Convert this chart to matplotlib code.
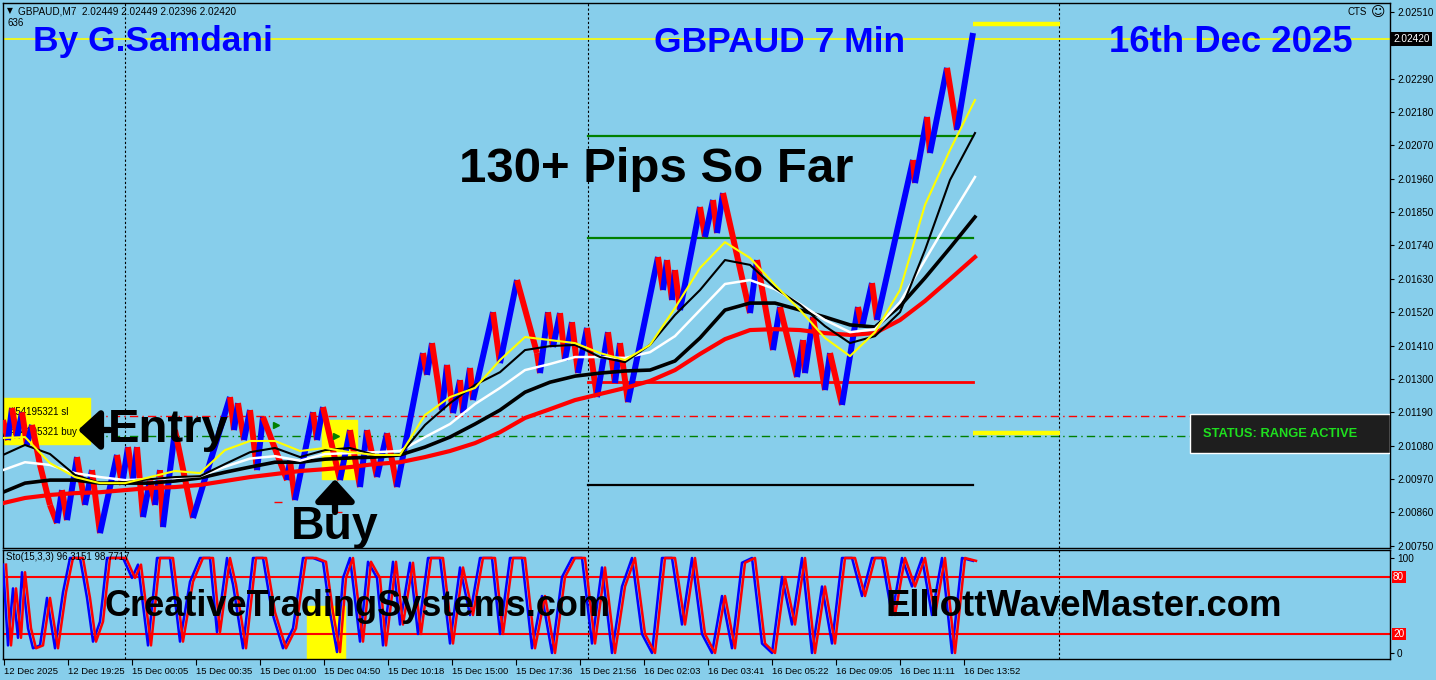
import numpy as np
import matplotlib.pyplot as plt
from matplotlib.collections import LineCollection
from matplotlib.patches import Rectangle

W, H = 1436, 680
SKY = '#87ceeb'

# --------------------------
# price swings (x = chart column, price)
# --------------------------
swing_x = [3, 8, 12, 17, 22, 27, 32, 40, 50, 57,
           62, 67, 77, 85, 92, 100, 117, 122, 128, 133,
           137, 143, 150, 155, 160, 163, 175, 193, 230, 234,
           238, 244, 250, 257, 263, 287, 290, 295, 313, 317,
           323, 340, 350, 360, 367, 377, 387, 397, 423, 427,
           432, 442, 447, 453, 460, 463, 470, 473, 493, 500,
           517, 537, 540, 548, 553, 560, 565, 572, 578, 587,
           597, 608, 615, 620, 628, 658, 663, 667, 672, 675,
           680, 700, 705, 713, 717, 723, 750, 757, 773, 780,
           797, 803, 805, 813, 825, 830, 842, 858, 862, 872,
           877, 913, 915, 927, 930, 947, 957, 973]
swing_p = [2.01164, 2.01098, 2.01204, 2.01105, 2.01190, 2.01082, 2.01148, 2.01016, 2.00884, 2.00824,
           2.00933, 2.00834, 2.01042, 2.00884, 2.00999, 2.00791, 2.01049, 2.00950, 2.01075, 2.00966,
           2.01075, 2.00844, 2.00966, 2.00884, 2.00999, 2.00811, 2.01131, 2.00841, 2.01240, 2.01131,
           2.01220, 2.01098, 2.01197, 2.00999, 2.01174, 2.00966, 2.01030, 2.00900, 2.01190, 2.01098,
           2.01207, 2.00966, 2.01131, 2.00943, 2.01131, 2.00976, 2.01121, 2.00943, 2.01385, 2.01313,
           2.01418, 2.01197, 2.01346, 2.01187, 2.01296, 2.01187, 2.01336, 2.01230, 2.01520, 2.01352,
           2.01626, 2.01385, 2.01319, 2.01520, 2.01405, 2.01517, 2.01362, 2.01487, 2.01319, 2.01468,
           2.01240, 2.01454, 2.01286, 2.01418, 2.01223, 2.01702, 2.01593, 2.01692, 2.01560, 2.01659,
           2.01527, 2.01867, 2.01768, 2.01890, 2.01781, 2.01913, 2.01517, 2.01692, 2.01395, 2.01537,
           2.01306, 2.01428, 2.01319, 2.01504, 2.01263, 2.01385, 2.01214, 2.01537, 2.01471, 2.01616,
           2.01494, 2.02022, 2.01946, 2.02164, 2.02045, 2.02326, 2.02121, 2.02441]

# moving averages, sampled every 25 columns
ma_x = [3, 25, 50, 75, 100, 125, 150, 175, 200, 225,
        250, 275, 300, 325, 350, 375, 400, 425, 450, 475,
        500, 525, 550, 575, 600, 625, 650, 675, 700, 725,
        750, 775, 800, 825, 850, 875, 900, 925, 950, 975]
ma_yellow = [2.01105, 2.01108, 2.01022, 2.00976, 2.00956, 2.00956, 2.00976, 2.00996, 2.00989, 2.01065,
             2.01095, 2.01095, 2.01062, 2.01072, 2.01058, 2.01049, 2.01049, 2.01181, 2.01240, 2.01270,
             2.01362, 2.01438, 2.01428, 2.01418, 2.01385, 2.01362, 2.01412, 2.01534, 2.01666, 2.01751,
             2.01699, 2.01610, 2.01527, 2.01435, 2.01375, 2.01454, 2.01593, 2.01874, 2.02055, 2.02220]
ma_black_thin = [2.01049, 2.01082, 2.01052, 2.00983, 2.00956, 2.00959, 2.00969, 2.00976, 2.00979, 2.01019,
                 2.01058, 2.01072, 2.01042, 2.01065, 2.01072, 2.01049, 2.01049, 2.01148, 2.01220, 2.01280,
                 2.01322, 2.01395, 2.01408, 2.01412, 2.01372, 2.01355, 2.01412, 2.01511, 2.01593, 2.01692,
                 2.01676, 2.01600, 2.01544, 2.01474, 2.01418, 2.01441, 2.01520, 2.01725, 2.01956, 2.02111]
ma_white = [2.00999, 2.01025, 2.01016, 2.00989, 2.00976, 2.00966, 2.00969, 2.00973, 2.00979, 2.01010,
            2.01037, 2.01045, 2.01030, 2.01052, 2.01055, 2.01058, 2.01062, 2.01108, 2.01151, 2.01217,
            2.01270, 2.01329, 2.01349, 2.01372, 2.01372, 2.01369, 2.01388, 2.01441, 2.01527, 2.01613,
            2.01626, 2.01596, 2.01547, 2.01494, 2.01454, 2.01464, 2.01553, 2.01692, 2.01831, 2.01966]
ma_black_thick = [2.00926, 2.00956, 2.00966, 2.00966, 2.00956, 2.00956, 2.00956, 2.00963, 2.00973, 2.00992,
                  2.01009, 2.01025, 2.01025, 2.01035, 2.01039, 2.01042, 2.01049, 2.01075, 2.01108, 2.01151,
                  2.01197, 2.01256, 2.01289, 2.01309, 2.01319, 2.01326, 2.01329, 2.01359, 2.01435, 2.01527,
                  2.01550, 2.01550, 2.01527, 2.01504, 2.01478, 2.01471, 2.01540, 2.01633, 2.01732, 2.01834]
ma_red = [2.00890, 2.00907, 2.00917, 2.00923, 2.00926, 2.00933, 2.00940, 2.00943, 2.00950, 2.00963,
          2.00976, 2.00986, 2.00996, 2.01002, 2.01009, 2.01019, 2.01025, 2.01042, 2.01062, 2.01088,
          2.01124, 2.01171, 2.01200, 2.01230, 2.01250, 2.01270, 2.01293, 2.01329, 2.01382, 2.01431,
          2.01461, 2.01464, 2.01461, 2.01451, 2.01445, 2.01451, 2.01494, 2.01557, 2.01629, 2.01702]

# horizontal levels
bid = 2.02420
level_green = [2.02101, 2.01765]
level_red = 2.01289
level_black = 2.00950
sl_price = 2.01177
buy_price = 2.01111
yellow_marks = [2.02471, 2.01121]

# stochastic swings
sto_x = [3, 8, 13, 18, 22, 28, 33, 40, 47, 55, 63, 70, 80, 87, 93, 100, 107, 113, 123, 132,
         138, 148, 157, 170, 180, 190, 200, 210, 217, 227, 233, 243, 253, 263, 272, 283, 293, 303, 313, 323,
         330, 337, 343, 350, 360, 368, 377, 383, 393, 400, 410, 418, 428, 440, 450, 460, 470, 480, 492, 500,
         510, 522, 532, 542, 552, 562, 572, 582, 592, 602, 612, 622, 632, 642, 652, 662, 672, 682, 692, 702,
         712, 722, 732, 742, 752, 762, 772, 782, 792, 802, 812, 822, 832, 842, 852, 862, 872, 882, 892, 902,
         912, 922, 932, 942, 952, 962, 973]
sto_k = [93, 8, 68, 16, 85, 26, 5, 8, 58, 5, 64, 100, 100, 58, 12, 33, 100, 100, 100, 79,
         93, 8, 100, 100, 12, 75, 100, 100, 22, 100, 72, 5, 100, 100, 43, 5, 26, 100, 100, 96,
         43, 1, 79, 100, 12, 96, 79, 8, 96, 30, 95, 20, 100, 100, 10, 90, 40, 100, 100, 20,
         100, 100, 5, 60, 0, 80, 100, 100, 10, 90, 0, 70, 100, 20, 0, 100, 100, 30, 100, 20,
         0, 60, 5, 95, 100, 10, 0, 80, 30, 100, 0, 70, 10, 100, 100, 60, 100, 100, 40, 100,
         70, 100, 40, 100, 0, 100, 97]

price_ticks = [2.00750, 2.00860, 2.00970, 2.01080, 2.01190, 2.01300, 2.01410, 2.01520,
               2.01630, 2.01740, 2.01850, 2.01960, 2.02070, 2.02180, 2.02290, 2.02400, 2.02510]
time_ticks = [4, 68, 132, 196, 260, 324, 388, 452, 516, 580, 644, 708, 772, 836, 900, 964]
time_labels = ["12 Dec 2025", "12 Dec 19:25", "15 Dec 00:05", "15 Dec 00:35", "15 Dec 01:00",
               "15 Dec 04:50", "15 Dec 10:18", "15 Dec 15:00", "15 Dec 17:36", "15 Dec 21:56",
               "16 Dec 02:03", "16 Dec 03:41", "16 Dec 05:22", "16 Dec 09:05", "16 Dec 11:11",
               "16 Dec 13:52"]
day_breaks = [125, 588, 1059]

small = dict(family='Liberation Sans')

# --------------------------
# figure
# --------------------------
fig = plt.figure(figsize=(W / 100, H / 100), dpi=100, facecolor=SKY)
ax = fig.add_axes([3 / W, 1 - 548 / H, 1387 / W, 545 / H], facecolor=SKY)
sx = fig.add_axes([3 / W, 1 - 659 / H, 1387 / W, 109 / H], facecolor=SKY)

ax.set_xlim(3, 1390)
ax.set_ylim(2.00742, 2.02540)
sx.set_xlim(3, 1390)
sx.set_ylim(-6.3, 108.4)

for a in (ax, sx):
    for s in a.spines.values():
        s.set_color('black')
        s.set_linewidth(1)
    for d in day_breaks:
        a.axvline(d, color='black', ls=(0, (2, 2)), lw=0.8, zorder=1)

# price axis
ax.yaxis.tick_right()
ax.set_yticks(price_ticks)
ax.set_yticklabels([f"{p:.5f}" if p != 2.02400 else "" for p in price_ticks], **small)
ax.tick_params(axis='y', direction='out', length=3, labelsize=7.2, pad=2)
ax.set_xticks([])

# levels
ax.axhline(bid, color='yellow', lw=1.2, zorder=2)
ax.axhline(sl_price, color='red', lw=1, ls=(0, (6, 3, 1, 3)), zorder=2)
ax.axhline(buy_price, color='green', lw=1, ls=(0, (6, 3, 1, 3)), zorder=2)
for lv in level_green:
    ax.plot([588, 973], [lv, lv], color='green', lw=1.6, zorder=3)
ax.plot([588, 973], [level_red, level_red], color='red', lw=2, zorder=3)
ax.plot([588, 973], [level_black, level_black], color='black', lw=1.6, zorder=3)
for lv in yellow_marks:
    ax.plot([973, 1060], [lv, lv], color='yellow', lw=3.2, zorder=3, solid_capstyle='butt')

# yellow order boxes
ax.add_patch(Rectangle((3, 2.01085), 87, 0.00152, color='yellow', zorder=2))
ax.add_patch(Rectangle((322, 2.00970), 35, 0.00194, color='yellow', zorder=2))
ax.text(10, 2.01190, "#54195321 sl", fontsize=7, va='center', zorder=2, **small)
ax.text(10, 2.01125, "#54195321 buy", fontsize=7, va='center', zorder=2, **small)

# moving averages
ax.plot(ma_x, ma_red, color='red', lw=3, zorder=4)
ax.plot(ma_x, ma_black_thick, color='black', lw=2.6, zorder=4)
ax.plot(ma_x, ma_white, color='white', lw=1.8, zorder=4)
ax.plot(ma_x, ma_black_thin, color='black', lw=1.5, zorder=4)
ax.plot(ma_x, ma_yellow, color='yellow', lw=1.5, zorder=4)

# price zigzag, blue up / red down
segs = [[(swing_x[i], swing_p[i]), (swing_x[i + 1], swing_p[i + 1])] for i in range(len(swing_x) - 1)]
cols = ['blue' if swing_p[i + 1] > swing_p[i] else 'red' for i in range(len(swing_x) - 1)]
ax.add_collection(LineCollection(segs, colors=cols, linewidths=4.3, zorder=3.5))

# trade markers
ax.plot([276, 336], [2.01147, 2.01111], marker='>', color='green', ms=5, ls='none', zorder=5)
ax.plot([278, 338], [2.00893, 2.00860], marker='_', color='red', ms=6, ls='none', zorder=5)

# status panel
ax.add_patch(Rectangle((1190, 2.01055), 200, 0.00129, facecolor='#1e1e1e', edgecolor='white', lw=1, zorder=6))
ax.text(1203, 2.01118, "STATUS: RANGE ACTIVE", color='#1ee01e', fontsize=9.3, fontweight='bold',
        family='Liberation Sans', va='center', zorder=7)

# current price label
ax.text(1393, bid, "2.02420", color='white', fontsize=7.2, va='center', ha='left',
        clip_on=False, zorder=8, bbox=dict(facecolor='black', edgecolor='none', pad=1.5), **small)

# stochastic
sx.add_patch(Rectangle((307, -6.3), 38, 56, color='yellow', zorder=1))
sx.axhline(80, color='red', lw=1.5, zorder=2)
sx.axhline(20, color='red', lw=1.5, zorder=2)
sx.plot(sto_x, sto_k, color='blue', lw=1.8, zorder=3)
sx.plot([x + 3 for x in sto_x], sto_k, color='red', lw=1.8, zorder=3)
sx.yaxis.tick_right()
sx.set_yticks([0, 100])
sx.set_yticklabels(['0', '100'], **small)
sx.tick_params(axis='y', direction='out', length=3, labelsize=7.2, pad=2)
for lv in (80, 20):
    sx.text(1393, lv, str(lv), color='white', fontsize=7.2, va='center', ha='left', clip_on=False,
            bbox=dict(facecolor='red', edgecolor='none', pad=1), **small)
sx.set_xticks(time_ticks)
sx.set_xticklabels(time_labels, ha='left', fontsize=6.8, **small)
sx.tick_params(axis='x', direction='out', length=4, pad=2)
sx.text(6, 101, "Sto(15,3,3) 96.3151 98.7717", fontsize=7, va='center', zorder=5, **small)

# --------------------------
# texts
# --------------------------
def ftext(x, y, s, **kw):
    fig.text(x / W, 1 - y / H, s, **kw)

big = dict(family='Liberation Sans', fontweight='bold', va='center', ha='left')
ftext(33, 42, "By G.Samdani", color='#0000ff', fontsize=25.5, **big)
ftext(654, 42, "GBPAUD 7 Min", color='#0000ff', fontsize=25.5, **big)
ftext(1109, 42, "16th Dec 2025", color='#0000ff', fontsize=26.3, **big)
ftext(459, 169, "130+ Pips So Far", color='black', fontsize=35.4, **big)
ftext(108, 430, "Entry", color='black', fontsize=34, **big)
ftext(291, 527, "Buy", color='black', fontsize=33.5, **big)
ftext(104, 606, "CreativeTradingSystems.com", color='black', fontsize=26, **big)
ftext(886, 606, "ElliottWaveMaster.com", color='black', fontsize=26.3, **big)

# thick arrows beside Entry and above Buy
arrow = dict(arrowstyle='-|>,head_length=0.55,head_width=0.5', lw=4.5, color='black',
             mutation_scale=24, shrinkA=0, shrinkB=0)
ax.annotate('', xy=(78, H - 430), xytext=(110, H - 430), xycoords='figure pixels',
            textcoords='figure pixels', arrowprops=arrow, zorder=9)
ax.annotate('', xy=(335, H - 479), xytext=(335, H - 512), xycoords='figure pixels',
            textcoords='figure pixels', arrowprops=arrow, zorder=9)

ftext(7, 11, "\u25bc", fontsize=5.5, va='center')
ftext(18, 11, "GBPAUD,M7  2.02449 2.02449 2.02396 2.02420", fontsize=7.2, va='center', **small)
ftext(7, 23, "636", fontsize=7, va='center', **small)
ftext(1348, 12, "CTS", fontsize=7, va='center', **small)
ftext(1378, 12, "\u263a", fontsize=10, va='center', ha='center')

fig.savefig('out.png', dpi=100, facecolor=SKY)
